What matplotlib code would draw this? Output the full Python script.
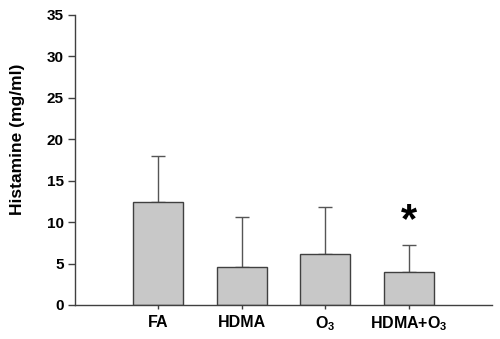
import numpy as np
import matplotlib
matplotlib.use("Agg")
import matplotlib.pyplot as plt

plt.rcParams['font.family'] = ['Liberation Sans', 'DejaVu Sans']
plt.rcParams['mathtext.fontset'] = 'custom'
plt.rcParams['mathtext.bf'] = 'Liberation Sans:bold'
plt.rcParams['mathtext.rm'] = 'Liberation Sans:bold'
plt.rcParams['mathtext.default'] = 'bf'

groups = ['FA', 'HDMA', 'O$_3$', 'HDMA+O$_3$']
means = [12.4, 4.6, 6.2, 4.0]
sd = [5.6, 6.0, 5.6, 3.3]
signif = [False, False, False, True]

line_col = '#404040'

fig = plt.figure(figsize=(5.0, 3.39), dpi=100)
ax = fig.add_axes([0.15, 0.1003, 0.834, 0.8555])

x = np.arange(len(groups))
ax.bar(x, means, width=0.6, color='#c8c8c8', edgecolor=line_col, linewidth=1.0, zorder=2)
ax.errorbar(x, means, yerr=[np.zeros(len(sd)), sd], fmt='none', ecolor='#555555',
            elinewidth=1.0, capsize=5, capthick=1.0, zorder=1)

# significance mark above the bar
for xi, m, s, sig in zip(x, means, sd, signif):
    if sig:
        ax.text(xi, m + s + 2.85, '*', ha='center', va='center', fontsize=30, fontweight='bold')

ax.set_xlim(-1, 4)
ax.set_ylim(0, 35)
ax.set_yticks(range(0, 36, 5))
ax.set_xticks(x)
ax.set_xticklabels(groups, fontsize=11.5, fontweight='bold')
ax.tick_params(axis='y', labelsize=11, length=5, width=1.0, color=line_col, pad=3)
ax.tick_params(axis='x', length=3, width=1.0, color=line_col, pad=4)
for lbl in ax.get_yticklabels():
    lbl.set_fontweight('bold')
ax.set_ylabel('Histamine (mg/ml)', fontsize=12.5, fontweight='bold')
ax.yaxis.set_label_coords(-0.121, 0.571)

for side in ['top', 'right']:
    ax.spines[side].set_visible(False)
for side in ['left', 'bottom']:
    ax.spines[side].set_color(line_col)
    ax.spines[side].set_linewidth(1.0)

fig.savefig('out.png', dpi=100)
